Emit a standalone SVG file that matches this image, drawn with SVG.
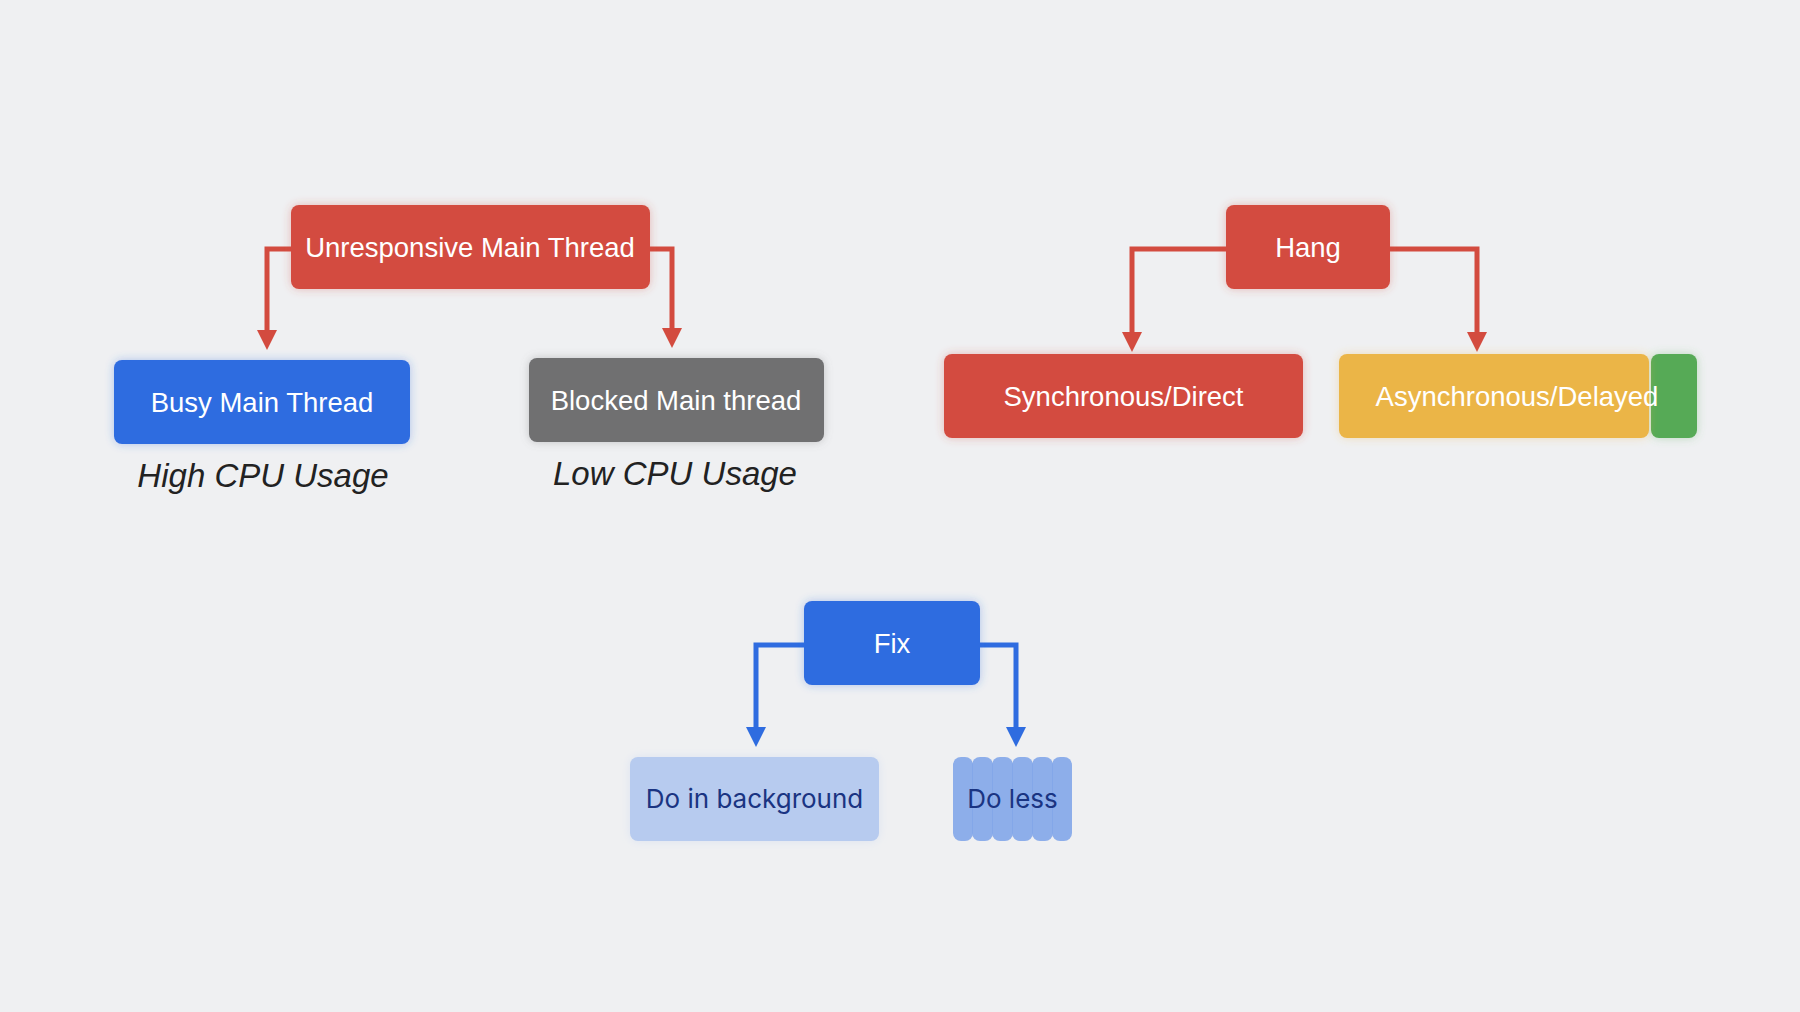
<svg xmlns="http://www.w3.org/2000/svg" width="1800" height="1012" viewBox="0 0 1800 1012">
<defs>
<filter id="glow" x="-20%" y="-30%" width="140%" height="160%">
<feGaussianBlur in="SourceGraphic" stdDeviation="5" result="b"/>
<feComponentTransfer in="b" result="g"><feFuncA type="linear" slope="0.35"/></feComponentTransfer>
<feMerge><feMergeNode in="g"/><feMergeNode in="SourceGraphic"/></feMerge>
</filter>
<marker id="ar" viewBox="0 0 20 20" refX="0" refY="10" markerWidth="20" markerHeight="20" orient="auto" markerUnits="userSpaceOnUse"><path d="M0,0 L20,10 L0,20 z" fill="#d34b3f"/></marker>
<marker id="ab" viewBox="0 0 20 20" refX="0" refY="10" markerWidth="20" markerHeight="20" orient="auto" markerUnits="userSpaceOnUse"><path d="M0,0 L20,10 L0,20 z" fill="#2f6ce0"/></marker>
</defs>
<style>
.t{font-family:"Liberation Sans","Inter",Arial,sans-serif;font-size:27.5px;fill:#ffffff;text-anchor:middle}
.d{font-family:"Inter","Liberation Sans",Arial,sans-serif;font-size:26px;fill:#1a3482;text-anchor:middle}
.i{font-family:"Liberation Sans",Arial,sans-serif;font-size:33px;font-style:italic;fill:#222222;text-anchor:middle}
.cr{fill:none;stroke:#d34b3f;stroke-width:5;marker-end:url(#ar)}
.cb{fill:none;stroke:#2f6ce0;stroke-width:5;marker-end:url(#ab)}
</style>
<rect width="1800" height="1012" fill="#eff0f2"/>
<g id="connectors">
<path class="cr" d="M291 249 H267 V330"/>
<path class="cr" d="M650 249 H672 V328"/>
<path class="cr" d="M1226 249 H1132 V332"/>
<path class="cr" d="M1390 249 H1477 V332"/>
<path class="cb" d="M804 645 H756 V727"/>
<path class="cb" d="M980 645 H1016 V727"/>
</g>
<g id="unresponsive"><rect x="291" y="205" width="359" height="84" rx="8" fill="#d34b3f" filter="url(#glow)"/><text class="t" x="470" y="257">Unresponsive Main Thread</text></g>
<g id="busy"><rect x="114" y="360" width="296" height="84" rx="8" fill="#2f6ce0" filter="url(#glow)"/><text class="t" x="262" y="412">Busy Main Thread</text><text class="i" x="263" y="487">High CPU Usage</text></g>
<g id="blocked"><rect x="529" y="358" width="295" height="84" rx="8" fill="#6f6f71" filter="url(#glow)"/><text class="t" x="676" y="410">Blocked Main thread</text><text class="i" x="675" y="485">Low CPU Usage</text></g>
<g id="hang"><rect x="1226" y="205" width="164" height="84" rx="8" fill="#d34b3f" filter="url(#glow)"/><text class="t" x="1308" y="257">Hang</text></g>
<g id="sync"><rect x="944" y="354" width="359" height="84" rx="8" fill="#d34b3f" filter="url(#glow)"/><text class="t" x="1123.5" y="406">Synchronous/Direct</text></g>
<g id="async"><rect x="1651" y="354" width="46" height="84" rx="8" fill="#57aa56" filter="url(#glow)"/><rect x="1339" y="354" width="310" height="84" rx="8" fill="#ebb547" filter="url(#glow)"/><text class="t" x="1517" y="406">Asynchronous/Delayed</text></g>
<g id="fix"><rect x="804" y="601" width="176" height="84" rx="8" fill="#2f6ce0" filter="url(#glow)"/><text class="t" x="892" y="653">Fix</text></g>
<g id="background"><rect x="630" y="757" width="249" height="84" rx="8" fill="#b7cbef" filter="url(#glow)"/><text class="d" x="754.5" y="808">Do in background</text></g>
<g id="less">
<g fill="#82a6e9" fill-opacity="0.9">
<rect x="953" y="757" width="20" height="84" rx="8"/>
<rect x="972" y="757" width="21" height="84" rx="8"/>
<rect x="992" y="757" width="21" height="84" rx="8"/>
<rect x="1012" y="757" width="21" height="84" rx="8"/>
<rect x="1032" y="757" width="21" height="84" rx="8"/>
<rect x="1052" y="757" width="20" height="84" rx="8"/>
</g>
<text class="d" x="1012.5" y="808">Do less</text></g>
</svg>
